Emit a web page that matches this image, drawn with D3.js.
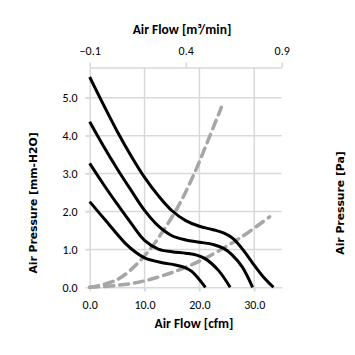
<!DOCTYPE html>
<html><head><meta charset="utf-8">
<script src="https://cdn.jsdelivr.net/npm/d3@7"></script>
<style>
html,body{margin:0;padding:0;background:#fff;}
svg{display:block;}
.tick text{font-family:"Liberation Sans Narrow","Arial Narrow",Carlito,"Liberation Sans",sans-serif;font-size:12px;fill:#000;}
</style>
</head><body>
<svg id="c" width="355" height="355"></svg>
<script>
// ---- data ----
const cfmTicks = [0, 10, 20, 30];
const m3Ticks = [-0.1, 0.4, 0.9];
const mmTicks = [0, 1, 2, 3, 4, 5];

const fan1 = [[0,5.55],[2.5,4.82],[5,4.12],[7.5,3.48],[10,2.9],[12.5,2.42],[15,2.02],[17.5,1.76],[20,1.61],[22.5,1.52],[24.5,1.43],[26.2,1.28],[28,0.98],[29.6,0.66],[31.5,0.3],[33.5,0]];
const fan2 = [[0,4.37],[2.5,3.73],[5,3.13],[7.5,2.57],[10,2.03],[12.5,1.62],[15,1.36],[17.5,1.25],[20,1.19],[22.5,1.13],[24.5,1.02],[26,0.85],[27.8,0.54],[29.7,0]];
const fan3 = [[0,3.27],[2.5,2.72],[5,2.2],[7.5,1.7],[10,1.24],[12.5,1.01],[15,0.94],[17.5,0.9],[19.5,0.85],[21.1,0.75],[23.5,0.44],[25.6,0]];
const fan4 = [[0,2.26],[2.8,1.78],[6.5,1.16],[8.5,0.91],[10.1,0.77],[13.2,0.65],[15.6,0.59],[17.4,0.52],[18.6,0.42],[21.1,0]];
const imp1 = [[0,0],[5,0.2],[10,0.83],[15.6,2.0],[18.9,2.95],[21.5,3.85],[24,4.75]];
const imp2 = [[0,0],[5,0.05],[10,0.17],[15.6,0.42],[20,0.69],[23.5,0.96],[28,1.36],[32.8,1.86]];

const svg = d3.select("#c");
const L = 89.7, R = 281.7, T = 67.5, B = 287.3;
const x = d3.scaleLinear().domain([0, 35]).range([L, R]);
const xTop = d3.scaleLinear().domain([-0.1, 0.9]).range([L, R]);
const y = d3.scaleLinear().domain([0, 5.8]).range([B, T]);
const grid = "#d9d9d9";

// gridlines
svg.append("g").selectAll("line").data(mmTicks.filter(d=>d>0)).join("line")
  .attr("x1", L-4).attr("x2", R).attr("y1", d=>y(d)).attr("y2", d=>y(d))
  .attr("stroke", grid).attr("stroke-width", 1.5);
svg.append("g").selectAll("line").data(cfmTicks.filter(d=>d>0)).join("line")
  .attr("x1", d=>x(d)).attr("x2", d=>x(d)).attr("y1", T).attr("y2", B+4)
  .attr("stroke", grid).attr("stroke-width", 1.5);

// axes
function style(g){ g.select(".domain").attr("stroke", grid).attr("stroke-width",1.5);
  g.selectAll(".tick line").attr("stroke", grid).attr("stroke-width",1.5); }
function clean(g){ g.selectAll(".tick text").attr("font-family",null).attr("font-size",null); }
svg.append("g").attr("transform", `translate(0,${B})`)
  .call(d3.axisBottom(x).tickValues(cfmTicks).tickFormat(d3.format(".1f")).tickSize(4).tickSizeOuter(0).tickPadding(9))
  .call(style).call(clean);
svg.append("g").attr("transform", `translate(${L},0)`)
  .call(d3.axisLeft(y).tickValues(mmTicks).tickFormat(d3.format(".1f")).tickSize(4).tickSizeOuter(0).tickPadding(8))
  .call(style).call(clean);
svg.append("g").attr("transform", `translate(0,${T})`)
  .call(d3.axisTop(xTop).tickValues(m3Ticks).tickFormat(d3.format(".1f")).tickSize(5).tickSizeOuter(0).tickPadding(8))
  .call(style).call(clean);

const line = d3.line().x(d=>x(d[0])).y(d=>y(d[1])).curve(d3.curveCatmullRom.alpha(0.5));
[imp1, imp2].forEach(s => svg.append("path").attr("d", line(s)).attr("fill","none")
  .attr("stroke","#a6a6a6").attr("stroke-width",3.5).attr("stroke-dasharray","9,6").attr("stroke-linecap","round"));
[fan1, fan2, fan3, fan4].forEach(s => svg.append("path").attr("d", line(s)).attr("fill","none")
  .attr("stroke","#000").attr("stroke-width",3).attr("stroke-linejoin","round"));

// titles
const narrow = '"Liberation Sans Narrow","Arial Narrow",Carlito,"Liberation Sans",sans-serif';
svg.append("text").attr("x",182).attr("y",34).attr("text-anchor","middle")
  .attr("font-family",narrow).attr("font-weight","bold").attr("font-size",13.5).text("Air Flow [m³/min]");
svg.append("text").attr("x",194).attr("y",328).attr("text-anchor","middle")
  .attr("font-family",narrow).attr("font-weight","bold").attr("font-size",13.5).text("Air Flow [cfm]");
svg.append("text").attr("transform","translate(37,203) rotate(-90)").attr("text-anchor","middle")
  .attr("font-family","DejaVu Sans").attr("font-weight","bold").attr("font-size",10.8).text("Air Pressure [mm-H2O]");
svg.append("text").attr("transform","translate(344,203) rotate(-90)").attr("text-anchor","middle")
  .attr("font-family","DejaVu Sans").attr("font-weight","bold").attr("font-size",10.8).text("Air Pressure [Pa]");
</script>
</body></html>
